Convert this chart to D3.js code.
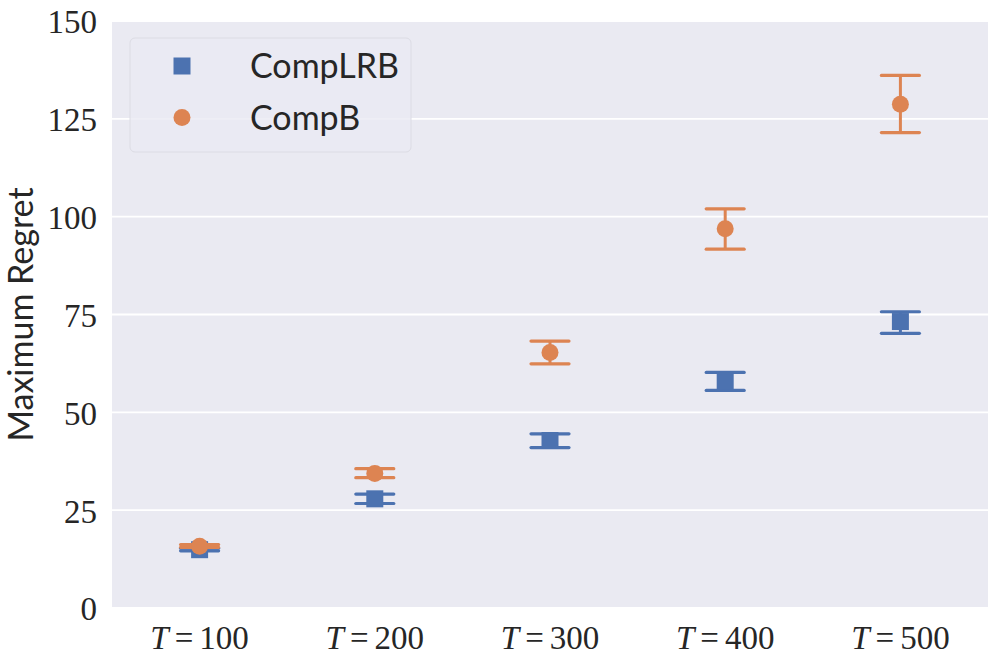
<!DOCTYPE html>
<html>
<head>
<meta charset="utf-8">
<script src="https://d3js.org/d3.v7.min.js"></script>
<style>
  body { margin: 0; background: #fff; }
  svg { display: block; }
</style>
</head>
<body>
<script>
// data
var categories = ["100", "200", "300", "400", "500"];
var yTicks = [0, 25, 50, 75, 100, 125, 150];

var lrbMean = [14.9, 27.9, 42.8, 58.0, 73.2];
var lrbLow  = [14.6, 26.7, 41.0, 55.6, 70.2];
var lrbHigh = [15.3, 29.1, 44.5, 60.2, 75.7];

var bMean = [15.8, 34.4, 65.3, 96.9, 128.7];
var bLow  = [15.5, 33.3, 62.4, 91.7, 121.5];
var bHigh = [16.2, 35.6, 68.2, 102.0, 136.1];

var series = [
  { name: "CompLRB", color: "#4c72b0", shape: "square", mean: lrbMean, low: lrbLow, high: lrbHigh },
  { name: "CompB", color: "#dd8452", shape: "circle", mean: bMean, low: bLow, high: bHigh }
];

var W = 996, H = 664;
var margin = { top: 21, right: 8, bottom: 56, left: 112 };
var width = W - margin.left - margin.right,
    height = H - margin.top - margin.bottom;

var svg = d3.select("body").append("svg")
  .attr("width", W).attr("height", H);

var g = svg.append("g")
  .attr("transform", "translate(" + margin.left + "," + margin.top + ")");

var x = d3.scaleBand().domain(categories).range([0, width]);
var y = d3.scaleLinear().domain([0, 150]).range([height, 0]);

// background + grid
g.append("rect").attr("width", width).attr("height", height).attr("fill", "#eaeaf2");
g.selectAll(".grid").data(yTicks).enter().append("line")
  .attr("x1", 0).attr("x2", width)
  .attr("y1", function (d) { return y(d); })
  .attr("y2", function (d) { return y(d); })
  .attr("stroke", "#fff").attr("stroke-width", 1.8);

// y axis
var yAxis = g.append("g").call(d3.axisLeft(y).tickValues(yTicks).tickSize(0).tickPadding(15));
yAxis.select(".domain").remove();
yAxis.selectAll("text")
  .attr("font-family", "'Liberation Serif', serif")
  .attr("font-size", 33).attr("fill", "#262626")
  .attr("dy", "0.36em");

// x axis
var xAxis = g.append("g").attr("transform", "translate(0," + height + ")")
  .call(d3.axisBottom(x).tickSize(0).tickFormat(""));
xAxis.select(".domain").remove();
xAxis.selectAll(".tick").append("text")
  .attr("y", 41)
  .attr("text-anchor", "middle")
  .attr("font-family", "'Liberation Serif', serif")
  .attr("font-size", 33).attr("fill", "#262626")
  .each(function (d) {
    var t = d3.select(this);
    t.append("tspan").attr("font-style", "italic").text("T");
    t.append("tspan").attr("dx", 6).text("=");
    t.append("tspan").attr("dx", 6).text(d);
  });

// y label
svg.append("text")
  .attr("transform", "translate(33," + (margin.top + height / 2) + ") rotate(-90)")
  .attr("text-anchor", "middle")
  .attr("font-family", "Lato, sans-serif")
  .attr("font-size", 34).attr("fill", "#262626")
  .text("Maximum Regret");

// points with error bars
var capHalf = 19, msize = 17;
series.forEach(function (s) {
  var sg = g.append("g");
  categories.forEach(function (c, i) {
    var cx = x(c) + x.bandwidth() / 2;
    sg.append("line")
      .attr("x1", cx).attr("x2", cx)
      .attr("y1", y(s.low[i])).attr("y2", y(s.high[i]))
      .attr("stroke", s.color).attr("stroke-width", 3);
    [s.low[i], s.high[i]].forEach(function (v) {
      sg.append("line")
        .attr("x1", cx - capHalf).attr("x2", cx + capHalf)
        .attr("y1", y(v)).attr("y2", y(v))
        .attr("stroke", s.color).attr("stroke-width", 3.2)
        .attr("stroke-linecap", "round");
    });
  });
  categories.forEach(function (c, i) {
    var cx = x(c) + x.bandwidth() / 2, cy = y(s.mean[i]);
    if (s.shape === "square") {
      sg.append("rect")
        .attr("x", cx - msize / 2).attr("y", cy - msize / 2)
        .attr("width", msize).attr("height", msize)
        .attr("fill", s.color);
    } else {
      sg.append("circle")
        .attr("cx", cx).attr("cy", cy).attr("r", msize / 2)
        .attr("fill", s.color);
    }
  });
});

// legend
var lg = svg.append("g").attr("transform", "translate(130,38)");
lg.append("rect")
  .attr("width", 281).attr("height", 114).attr("rx", 5)
  .attr("fill", "#eaeaf2").attr("fill-opacity", 0.8)
  .attr("stroke", "#dcdce4").attr("stroke-width", 1);
series.forEach(function (s, i) {
  var ly = 28 + i * 51.5;
  if (s.shape === "square") {
    lg.append("rect")
      .attr("x", 52 - msize / 2).attr("y", ly - msize / 2)
      .attr("width", msize).attr("height", msize).attr("fill", s.color);
  } else {
    lg.append("circle").attr("cx", 52).attr("cy", ly).attr("r", msize / 2).attr("fill", s.color);
  }
  lg.append("text")
    .attr("x", 120).attr("y", ly + 12)
    .attr("font-family", "Lato, sans-serif")
    .attr("font-size", 34).attr("fill", "#262626")
    .text(s.name);
});
</script>
</body>
</html>
